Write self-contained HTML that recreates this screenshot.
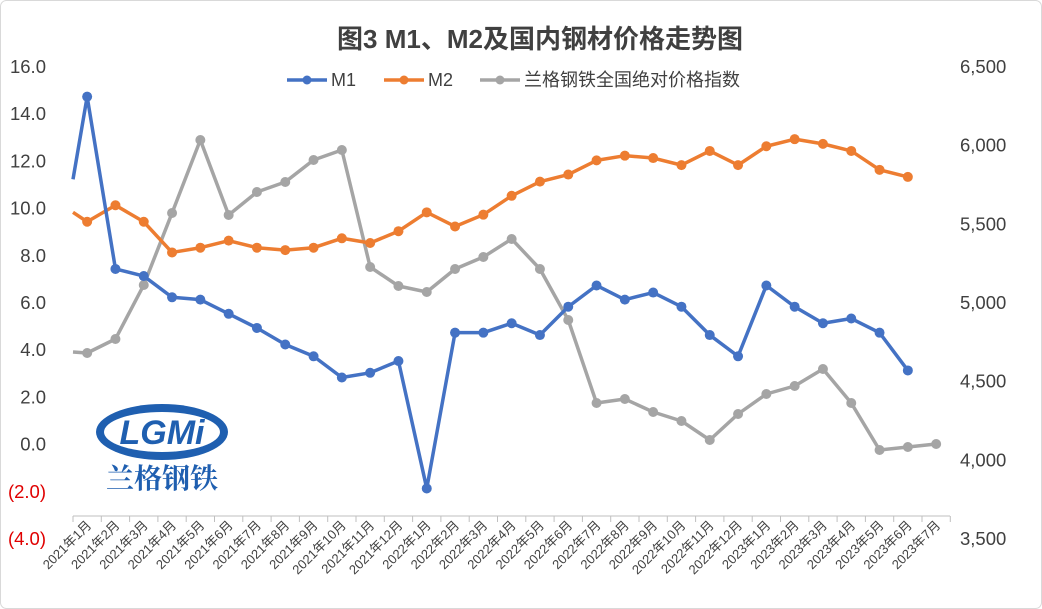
<!DOCTYPE html>
<html><head><meta charset="utf-8"><style>
body{margin:0;background:#fff}
svg{display:block;font-family:"Liberation Sans","Noto Sans CJK SC",sans-serif}
</style></head><body>
<svg id="c" width="1042" height="609" xmlns="http://www.w3.org/2000/svg">
<rect x="0.5" y="0.5" width="1041" height="608" rx="6" fill="#fff" stroke="#d9d9d9"/>
<text x="540" y="48" font-size="26" font-weight="bold" fill="#404040" text-anchor="middle">图3 M1、M2及国内钢材价格走势图</text>
<g font-size="18" fill="#404040">
<line x1="287" y1="80" x2="327" y2="80" stroke="#4472c4" stroke-width="3.5"/><circle cx="307" cy="80" r="4.5" fill="#4472c4"/><text x="331" y="86">M1</text>
<line x1="384" y1="80" x2="424" y2="80" stroke="#ed7d31" stroke-width="3.5"/><circle cx="404" cy="80" r="4.5" fill="#ed7d31"/><text x="428" y="86">M2</text>
<line x1="480" y1="80" x2="520" y2="80" stroke="#a5a5a5" stroke-width="3.5"/><circle cx="500" cy="80" r="4.5" fill="#a5a5a5"/><text x="524" y="86">兰格钢铁全国绝对价格指数</text>
</g>
<g id="ax"></g>
<g transform="translate(162,440)">
<ellipse cx="0" cy="-8" rx="66" ry="28" fill="#1f5fb0"/>
<ellipse cx="0" cy="-8" rx="58" ry="20" fill="#fff"/>
<text x="0" y="4" font-size="34" font-weight="bold" font-style="italic" fill="#1f5fb0" text-anchor="middle">LGMi</text>
<text x="0" y="48" font-size="28" font-weight="bold" fill="#1f5fb0" text-anchor="middle" font-family="'Noto Serif CJK SC',serif">兰格钢铁</text>
</g>
</svg>
<script>
var ax=document.getElementById('ax'),s='';
var X0=73,W=28.3;
function yL(v){return 443.6-v*23.6}
for(var i=0;i<=10;i++){var v=16-2*i,y=66+i*47.2;
var lbl=v<0?'('+(-v).toFixed(1)+')':v.toFixed(1);
s+='<text x="46" y="'+(y+7)+'" font-size="18.5" text-anchor="end" fill="'+(v<0?'#e00000':'#404040')+'">'+lbl+'</text>';}
for(var i=0;i<=6;i++){var y=66+i*78.67;
s+='<text x="960" y="'+(y+7)+'" font-size="18.5" fill="#404040">'+(6500-i*500).toLocaleString('en-US')+'</text>';}
s+='<line x1="73" y1="516" x2="950" y2="516" stroke="#bfbfbf"/>';
for(var i=0;i<=31;i++){var x=X0+i*W;s+='<line x1="'+x+'" y1="516" x2="'+x+'" y2="522" stroke="#bfbfbf"/>';}
for(var i=0;i<31;i++){var yr=2021+Math.floor(i/12),m=i%12+1,x=X0+W/2+i*W+5;
s+='<text transform="translate('+x+',526) rotate(-45)" font-size="13" text-anchor="end" fill="#404040">'+yr+'年'+m+'月</text>';}
var m1=[14.7,7.4,7.1,6.2,6.1,5.5,4.9,4.2,3.7,2.8,3.0,3.5,-1.9,4.7,4.7,5.1,4.6,5.8,6.7,6.1,6.4,5.8,4.6,3.7,6.7,5.8,5.1,5.3,4.7,3.1];
var m2=[9.4,10.1,9.4,8.1,8.3,8.6,8.3,8.2,8.3,8.7,8.5,9.0,9.8,9.2,9.7,10.5,11.1,11.4,12.0,12.2,12.1,11.8,12.4,11.8,12.6,12.9,12.7,12.4,11.6,11.3];
var g=[353,339,285,213,140,215,192,182,160,150,267,286,292,269,257,239,269,320,403,399,412,421,440,414,394,386,369,403,450,447,444];
function ser(ys,start,c){var p=[[X0,start]];ys.forEach(function(y,i){p.push([X0+W/2+i*W,y])});
var o='<polyline fill="none" stroke="'+c+'" stroke-width="3.5" stroke-linejoin="round" points="'+p.map(function(q){return q.join(',')}).join(' ')+'"/>';
p.slice(1).forEach(function(q){o+='<circle cx="'+q[0]+'" cy="'+q[1]+'" r="5" fill="'+c+'"/>'});return o;}
s+=ser(g,352,'#a5a5a5');
s+=ser(m2.map(yL),yL(9.8),'#ed7d31');
s+=ser(m1.map(yL),yL(11.2),'#4472c4');
ax.innerHTML=s;
</script>
</body></html>
